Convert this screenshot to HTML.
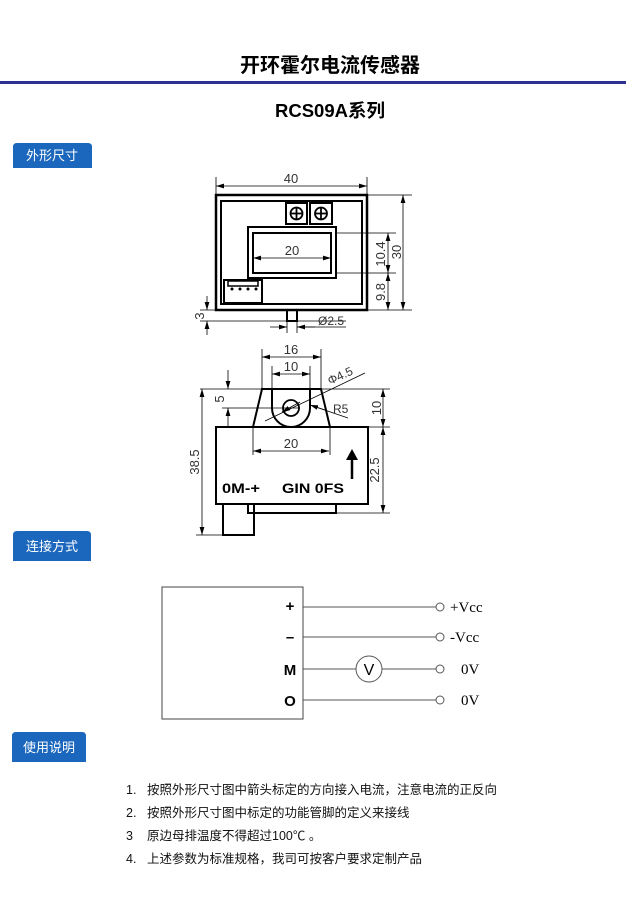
<!DOCTYPE html>
<html><head><meta charset="utf-8"><style>
html,body{margin:0;padding:0;background:#fff}
svg{display:block}
</style></head><body>
<svg width="630" height="924" viewBox="0 0 630 924" xmlns="http://www.w3.org/2000/svg" font-family="'Liberation Sans','Noto Sans CJK SC',sans-serif">
<defs>
<marker id="a" viewBox="0 0 10 6" refX="10" refY="3" markerWidth="8" markerHeight="5" orient="auto-start-reverse" markerUnits="userSpaceOnUse"><path d="M0,0 L10,3 L0,6 z" fill="#000"/></marker>
</defs>
<text x="330" y="72" font-size="20" font-weight="bold" text-anchor="middle" textLength="180" lengthAdjust="spacingAndGlyphs">开环霍尔电流传感器</text>
<rect x="0" y="81" width="626" height="3" fill="#2e3192"/>
<text x="330" y="117" font-size="18" font-weight="bold" text-anchor="middle" textLength="110" lengthAdjust="spacingAndGlyphs">RCS09A系列</text>

<g fill="#1b67bd">
<path d="M13,168 V147 Q13,143 17,143 H88 Q92,143 92,147 V168 Z"/>
<path d="M13,561 V535 Q13,531 17,531 H87 Q91,531 91,535 V561 Z"/>
<path d="M12,762 V736 Q12,732 16,732 H82 Q86,732 86,736 V762 Z"/>
</g>
<g fill="#fff" font-size="13">
<text x="52" y="160" text-anchor="middle">外形尺寸</text>
<text x="52" y="551" text-anchor="middle">连接方式</text>
<text x="49" y="752" text-anchor="middle">使用说明</text>
</g>

<!-- top drawing -->
<g fill="none" stroke="#000">
<rect x="216" y="195" width="151" height="115" stroke-width="2.5"/>
<rect x="221" y="201" width="141" height="103" stroke-width="2"/>
<rect x="286" y="203" width="21" height="21" stroke-width="2"/>
<rect x="310" y="203" width="22" height="21" stroke-width="2"/>
<circle cx="296.5" cy="213.5" r="6" stroke-width="1.8"/><circle cx="321" cy="213.5" r="6" stroke-width="1.8"/>
<path d="M290.5,213.5h12M296.5,207.5v12M315,213.5h12M321,207.5v12" stroke-width="1.8"/>
<rect x="248" y="227" width="88" height="51" stroke-width="2"/>
<rect x="253" y="233" width="78" height="40" stroke-width="2"/>
<rect x="224" y="280" width="38" height="23" stroke-width="2"/>
<rect x="228" y="281" width="30" height="5" stroke-width="1.5"/>
<rect x="287" y="310" width="10" height="11" stroke-width="2"/>
<g stroke-width="0.8">
<path d="M216,195V177M367,195V177M336,233H396M336,273H396M367,310H395M367,195H412M367,310H412M200,310H216M200,321H287M297,321H346M287,321v12M297,321v12"/>
<line x1="216" y1="186" x2="367" y2="186" marker-start="url(#a)" marker-end="url(#a)"/>
<line x1="253" y1="258" x2="331" y2="258" marker-start="url(#a)" marker-end="url(#a)"/>
<line x1="388" y1="233" x2="388" y2="273" marker-start="url(#a)" marker-end="url(#a)"/>
<line x1="388" y1="273" x2="388" y2="310" marker-start="url(#a)" marker-end="url(#a)"/>
<line x1="403" y1="195" x2="403" y2="310" marker-start="url(#a)" marker-end="url(#a)"/>
<line x1="207" y1="296" x2="207" y2="310" marker-end="url(#a)"/>
<line x1="207" y1="335" x2="207" y2="321" marker-end="url(#a)"/>
<line x1="270" y1="327" x2="287" y2="327" marker-end="url(#a)"/>
<line x1="315" y1="327" x2="297" y2="327" marker-end="url(#a)"/>
<line x1="297" y1="327" x2="346" y2="327"/>
</g>
</g>
<g fill="#000"><circle cx="232" cy="289" r="1.5"/><circle cx="240" cy="289" r="1.5"/><circle cx="248" cy="289" r="1.5"/><circle cx="256" cy="289" r="1.5"/></g>
<g font-size="13" fill="#333">
<text x="291" y="183" text-anchor="middle">40</text>
<text x="292" y="255" text-anchor="middle">20</text>
<text x="318" y="325" font-size="12">Ø2.5</text>
<text transform="translate(385,254) rotate(-90)" text-anchor="middle">10.4</text>
<text transform="translate(385,292) rotate(-90)" text-anchor="middle">9.8</text>
<text transform="translate(401,252) rotate(-90)" text-anchor="middle">30</text>
<text transform="translate(204,316) rotate(-90)" text-anchor="middle">3</text>
</g>

<!-- bottom drawing -->
<g fill="none" stroke="#000">
<rect x="216" y="427" width="152" height="77" stroke-width="2"/>
<path d="M253,427 L262,389 H321 L330,427" stroke-width="2"/>
<path d="M272,389 V408 A19,19 0 0 0 310,408 V389" stroke-width="2"/>
<circle cx="291" cy="408" r="8" stroke-width="1.8"/>
<rect x="248" y="504" width="88" height="9" stroke-width="2"/>
<rect x="223" y="504" width="31" height="31" stroke-width="2"/>
<g stroke-width="0.8">
<path d="M262,389V349M321,389V349M272,389V366M310,389V366M200,389H262M222,408H300M321,389H390M368,427H390M336,513H390M253,427V455M330,427V455M196,535H223M265,421L365,373M310,405L348,418"/>
<line x1="262" y1="357" x2="321" y2="357" marker-start="url(#a)" marker-end="url(#a)"/>
<line x1="272" y1="374" x2="310" y2="374" marker-start="url(#a)" marker-end="url(#a)"/>
<line x1="253" y1="451" x2="329" y2="451" marker-start="url(#a)" marker-end="url(#a)"/>
<line x1="202" y1="389" x2="202" y2="535" marker-start="url(#a)" marker-end="url(#a)"/>
<line x1="383" y1="389" x2="383" y2="427" marker-start="url(#a)" marker-end="url(#a)"/>
<line x1="383" y1="427" x2="383" y2="513" marker-start="url(#a)" marker-end="url(#a)"/>
<line x1="228" y1="370" x2="228" y2="389" marker-end="url(#a)"/>
<line x1="228" y1="427" x2="228" y2="408" marker-end="url(#a)"/>
<line x1="300" y1="402" x2="282" y2="412" marker-end="url(#a)"/>
<line x1="325" y1="410" x2="310" y2="405" marker-end="url(#a)"/>
</g>
</g>
<path d="M352,479 V458" stroke="#000" stroke-width="2.5"/>
<path d="M346,460 L352,449 L358,460 Z" fill="#000"/>
<g font-size="13" fill="#333">
<text x="291" y="354" text-anchor="middle">16</text>
<text x="291" y="371" text-anchor="middle">10</text>
<text x="291" y="448" text-anchor="middle">20</text>
<text x="333" y="413" font-size="12">R5</text>
<text transform="translate(330,385) rotate(-25)" font-size="12">Φ4.5</text>
<text transform="translate(224,399) rotate(-90)" text-anchor="middle">5</text>
<text transform="translate(199,462) rotate(-90)" text-anchor="middle">38.5</text>
<text transform="translate(381,408) rotate(-90)" text-anchor="middle">10</text>
<text transform="translate(379,470) rotate(-90)" text-anchor="middle">22.5</text>
</g>
<g font-size="14" font-weight="bold" fill="#000" font-family="'Liberation Sans',sans-serif">
<text x="222" y="493" textLength="38" lengthAdjust="spacingAndGlyphs">0M-+</text>
<text x="282" y="493" textLength="62" lengthAdjust="spacingAndGlyphs">GIN 0FS</text>
</g>

<!-- connection -->
<rect x="162" y="587" width="141" height="132" fill="none" stroke="#444" stroke-width="1"/>
<g font-size="15" font-weight="bold" text-anchor="middle">
<text x="290" y="611">+</text>
<text x="290" y="642">–</text>
<text x="290" y="675">M</text>
<text x="290" y="706">O</text>
</g>
<g stroke="#555" stroke-width="1" fill="#fff">
<path d="M303,607H436M303,637H436M303,669H356M382,669H436M303,700H436"/>
<circle cx="369" cy="669" r="13"/>
<circle cx="440" cy="607" r="4"/><circle cx="440" cy="637" r="4"/><circle cx="440" cy="669" r="4"/><circle cx="440" cy="700" r="4"/>
</g>
<text x="369" y="675" font-size="16" text-anchor="middle">V</text>
<g font-size="15" font-family="'Liberation Serif',serif">
<text x="450" y="612">+Vcc</text>
<text x="450" y="642">-Vcc</text>
<text x="461" y="674">0V</text>
<text x="461" y="705">0V</text>
</g>

<g font-size="12.5" fill="#111">
<text x="126" y="794">1.</text><text x="147" y="794">按照外形尺寸图中箭头标定的方向接入电流，注意电流的正反向</text>
<text x="126" y="817">2.</text><text x="147" y="817">按照外形尺寸图中标定的功能管脚的定义来接线</text>
<text x="126" y="840">3</text><text x="147" y="840">原边母排温度不得超过100℃ 。</text>
<text x="126" y="863">4.</text><text x="147" y="863">上述参数为标准规格，我司可按客户要求定制产品</text>
</g>
</svg>
</body></html>
